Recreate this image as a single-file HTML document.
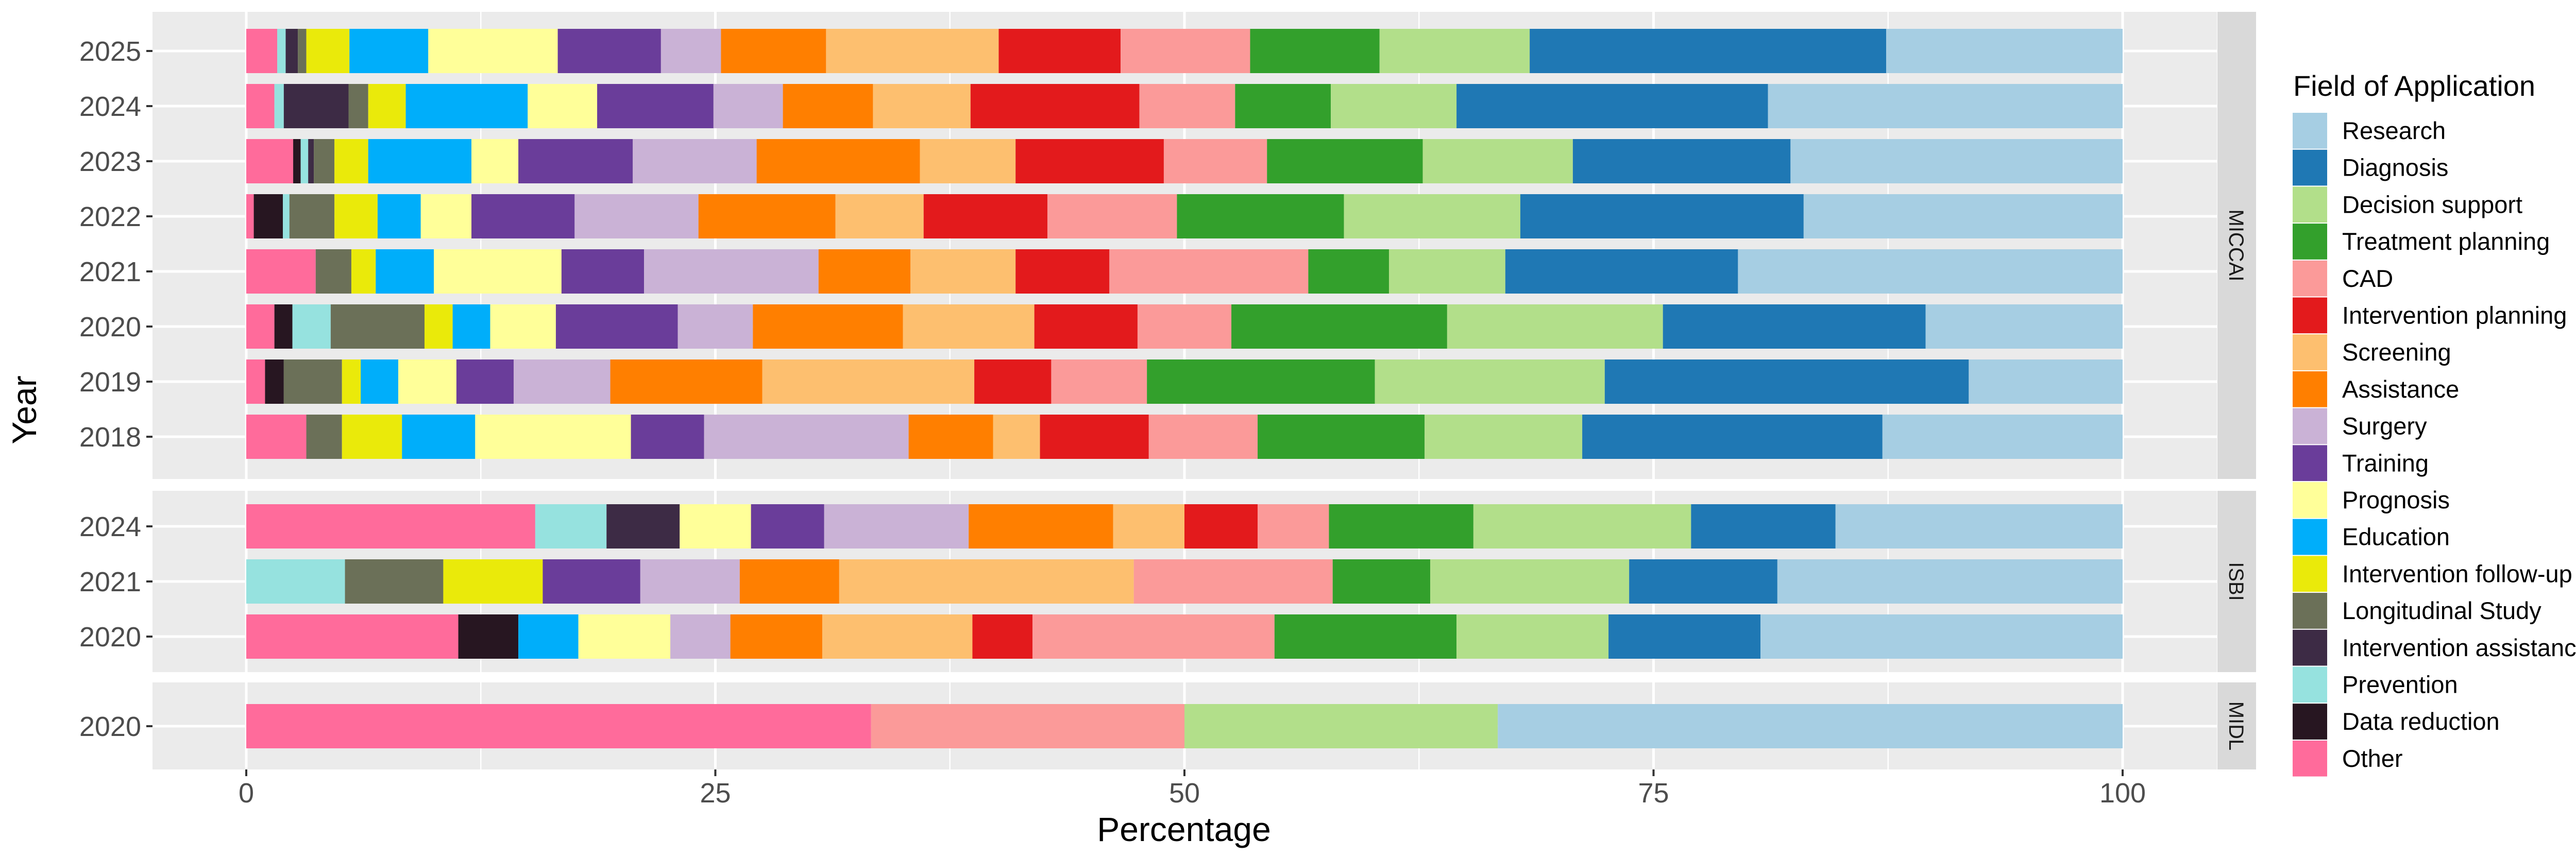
<!DOCTYPE html>
<html><head><meta charset="utf-8"><style>
html,body{margin:0;padding:0;background:#fff;}
svg{display:block;font-family:"Liberation Sans",sans-serif;}
</style></head><body>
<svg id="chart" width="5100" height="1664" viewBox="0 0 5100 1664" xmlns="http://www.w3.org/2000/svg">
<g id="panels"></g>
<g id="bars"></g>
<g id="axes"></g>
<g id="legend"></g>
<text x="2298" y="1633" font-size="66" text-anchor="middle" fill="#000">Percentage</text>
<text x="0" y="0" font-size="66" text-anchor="middle" fill="#000" transform="translate(70,796) rotate(-90)">Year</text>
</svg>
<script>
const categories = ["Other","Data reduction","Prevention","Intervention assistance","Longitudinal Study","Intervention follow-up","Education","Prognosis","Training","Surgery","Assistance","Screening","Intervention planning","CAD","Treatment planning","Decision support","Diagnosis","Research"];
const colors = ["#FF6B9B","#271621","#96E2DF","#3D2B45","#6B7058","#EAEA0A","#00AEFA","#FFFF99","#6A3D9A","#CAB2D6","#FF7F00","#FDBF6F","#E31A1C","#FB9A99","#33A02C","#B2DF8A","#1F78B4","#A6CEE3"];
const venues = ["MICCAI","ISBI","MIDL"];
const miccaiYears = ["2025","2024","2023","2022","2021","2020","2019","2018"];
const isbiYears = ["2024","2021","2020"];
const midlYears = ["2020"];
const miccai2025 = [1.65,0,0.45,0.65,0.45,2.3,4.2,6.9,5.5,3.2,5.6,9.2,6.5,6.9,6.9,8.0,19.0,12.6];
const miccai2024 = [1.5,0,0.5,3.45,1.05,2.0,6.5,3.7,6.2,3.7,4.8,5.2,9.0,5.1,5.1,6.7,16.6,18.9];
const miccai2023 = [2.5,0.4,0.4,0.3,1.1,1.8,5.5,2.5,6.1,6.6,8.7,5.1,7.9,5.5,8.3,8.0,11.6,17.7];
const miccai2022 = [0.4,1.55,0.35,0,2.4,2.3,2.3,2.7,5.5,6.6,7.3,4.7,6.6,6.9,8.9,9.4,15.1,17.0];
const miccai2021 = [3.7,0,0,0,1.9,1.3,3.1,6.8,4.4,9.3,4.9,5.6,5.0,10.6,4.3,6.2,12.4,20.5];
const miccai2020 = [1.5,0.96,2.04,0,5.0,1.5,2.0,3.5,6.5,4.0,8.0,7.0,5.5,5.0,11.5,11.5,14.0,10.5];
const miccai2019 = [1.0,1.0,0,0,3.1,1.0,2.0,3.1,3.05,5.15,8.1,11.3,4.1,5.1,12.15,12.25,19.4,8.2];
const miccai2018 = [3.2,0,0,0,1.9,3.2,3.9,8.3,3.9,10.9,4.5,2.5,5.8,5.8,8.9,8.4,16.0,12.8];
const isbi2024 = [15.4,0,3.8,3.9,0,0,0,3.8,3.9,7.7,7.7,3.8,3.9,3.8,7.7,11.6,7.7,15.3];
const isbi2021 = [0,0,5.26,0,5.24,5.3,0,0,5.2,5.3,5.3,15.7,0,10.6,5.2,10.6,7.9,18.4];
const isbi2020 = [11.3,3.2,0,0,0,0,3.2,4.9,0,3.2,4.9,8.0,3.2,12.9,9.7,8.1,8.1,19.3];
const midl2020 = [33.3,0,0,0,0,0,0,0,0,0,0,0,0,16.7,0,16.7,0,33.3];
const xTicks = [0,25,50,75,100];
const xMinor = [12.5,37.5,62.5,87.5];

const NS="http://www.w3.org/2000/svg";
function mk(tag,attrs,parent){const e=document.createElementNS(NS,tag);for(const k in attrs)e.setAttribute(k,attrs[k]);parent.appendChild(e);return e;}
const X0=478,X1=4120;
function xs(v){return X0+(X1-X0)*v/100;}
const PL=296,PR=4303,SR=4379;
const panelDefs=[
 {name:venues[0],top:23,bottom:930,first:99,years:miccaiYears,rows:[miccai2025,miccai2024,miccai2023,miccai2022,miccai2021,miccai2020,miccai2019,miccai2018]},
 {name:venues[1],top:953,bottom:1305,first:1022,years:isbiYears,rows:[isbi2024,isbi2021,isbi2020]},
 {name:venues[2],top:1325,bottom:1494,first:1410,years:midlYears,rows:[midl2020]}
];
const STEP=107,BH=86;
const gP=document.getElementById('panels'),gB=document.getElementById('bars'),gA=document.getElementById('axes'),gL=document.getElementById('legend');
panelDefs.forEach(p=>{
 const bg=mk('rect',{x:PL,y:p.top,width:PR-PL,height:p.bottom-p.top,fill:'#EBEBEB'},gP);
 
 
 xMinor.forEach(v=>{const l=mk('line',{x1:xs(v),x2:xs(v),y1:p.top,y2:p.bottom,stroke:'#fff','stroke-width':2.5},gP);
  
  });
 xTicks.forEach(v=>{const l=mk('line',{x1:xs(v),x2:xs(v),y1:p.top,y2:p.bottom,stroke:'#fff','stroke-width':5},gP);
  
  });
 p.years.forEach((y,i)=>{const cy=p.first+i*STEP;
  const l=mk('line',{x1:PL,x2:PR,y1:cy,y2:cy,stroke:'#fff','stroke-width':5},gP);
  
  
  const t=mk('text',{x:274,y:cy+19,'font-size':54,'text-anchor':'end',fill:'#4D4D4D'},gA);t.textContent=y;
  
  
  const tk=mk('line',{x1:284,x2:296,y1:cy,y2:cy,stroke:'#333','stroke-width':4},gA);
  
  
  let acc=0;
  p.rows[i].forEach((v,k)=>{ if(v<=0)return;
   const r=mk('rect',{x:xs(acc),y:cy-BH/2,width:xs(acc+v)-xs(acc),height:BH,fill:colors[k]},gB);
   
   
   acc+=v;});
 });
 const st=mk('rect',{x:PR+1,y:p.top,width:SR-PR-1,height:p.bottom-p.top,fill:'#D9D9D9'},gP);
 
 
 const cy=(p.top+p.bottom)/2;
 const stt=mk('text',{x:0,y:0,'font-size':40,'text-anchor':'middle',fill:'#1A1A1A',transform:`translate(${(PR+SR)/2-14},${cy}) rotate(90)`},gP);
 stt.textContent=p.name;
 
 
});
xTicks.forEach(v=>{
 const tk=mk('line',{x1:xs(v),x2:xs(v),y1:1494,y2:1507,stroke:'#333','stroke-width':4},gA);
 
 
 const t=mk('text',{x:xs(v),y:1558,'font-size':54,'text-anchor':'middle',fill:'#4D4D4D'},gA);t.textContent=v;
 
 
});
const lt=mk('text',{x:4451,y:186,'font-size':56,fill:'#000'},gL);lt.textContent='Field of Application';


for(let j=0;j<categories.length;j++){
 const k=categories.length-1-j;const y=218+j*71.7;
 const r=mk('rect',{x:4450,y:y+1,width:67,height:69.7,fill:colors[k]},gL);
 
 
 const t=mk('text',{x:4546,y:y+52,'font-size':47,fill:'#000'},gL);t.textContent=categories[k];
 
 
}
</script>
</body></html>
